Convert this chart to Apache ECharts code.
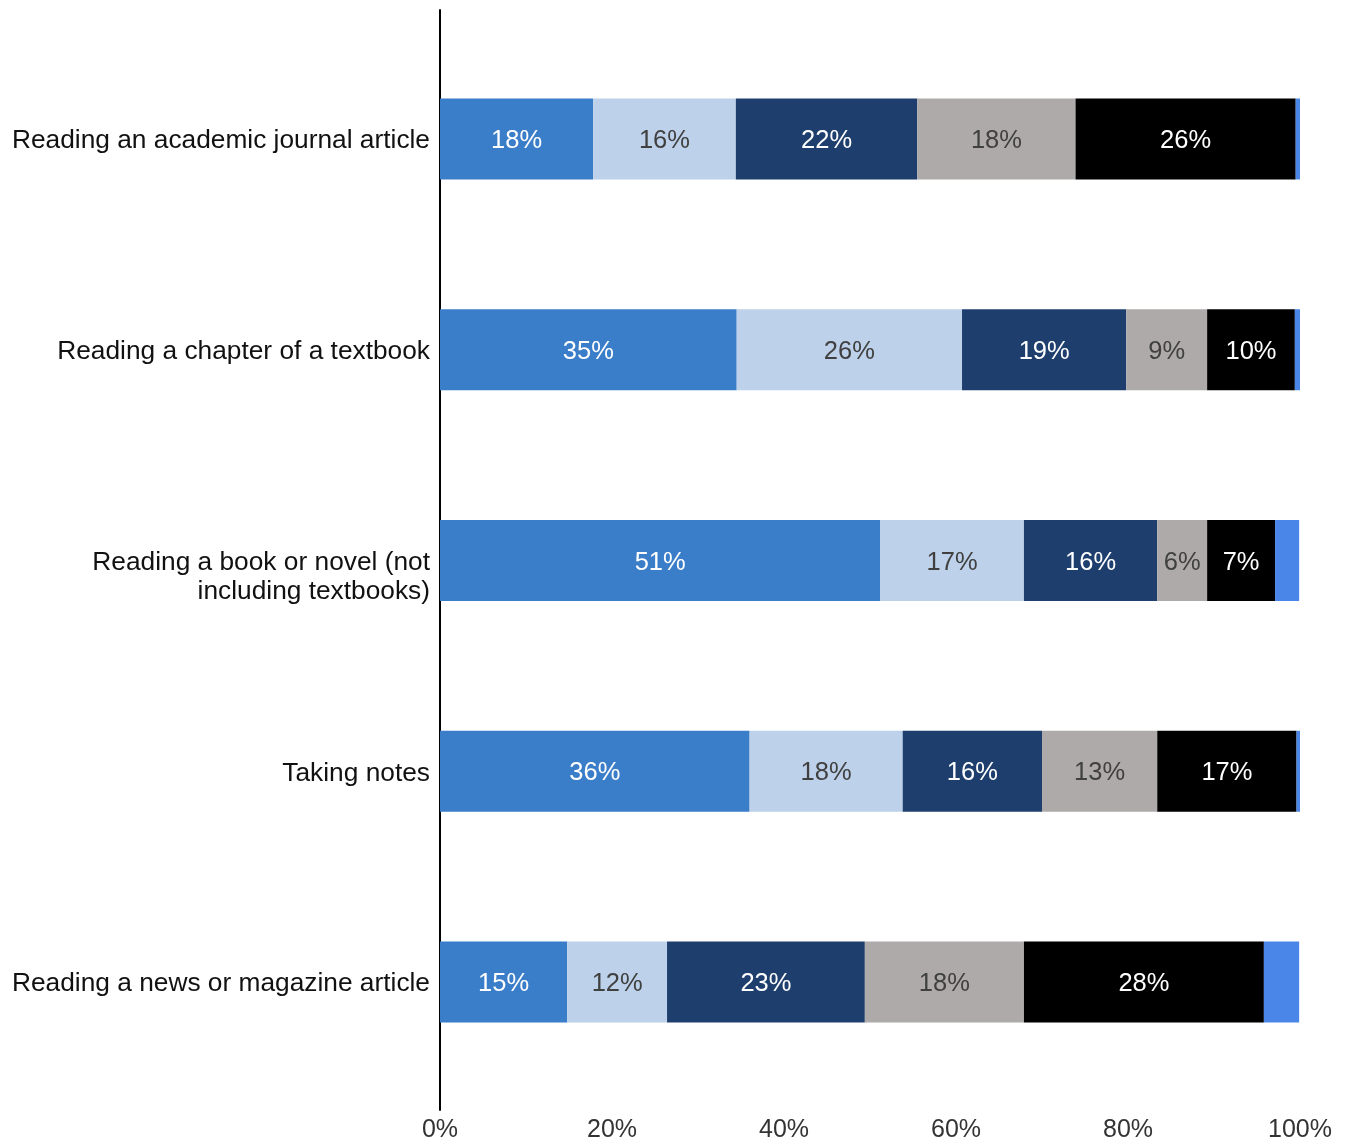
<!DOCTYPE html>
<html>
<head>
<meta charset="utf-8">
<script src="https://cdn.jsdelivr.net/npm/echarts@6/dist/echarts.min.js"></script>
<style>
html,body{margin:0;padding:0;background:#fff;}
#chart{width:1349px;height:1144px;}
</style>
</head>
<body>
<div id="chart"></div>
<script>
// Categories (top to bottom)
const categories = [
  "Reading an academic journal article",
  "Reading a chapter of a textbook",
  "Reading a book or novel (not\nincluding textbooks)",
  "Taking notes",
  "Reading a news or magazine article"
];
// Segment values (percent of bar length)
const seg1 = [17.8, 34.5, 51.2, 36.0, 14.8];
const seg2 = [16.6, 26.2, 16.7, 17.8, 11.6];
const seg3 = [21.1, 19.1, 15.5, 16.2, 23.0];
const seg4 = [18.4, 9.4, 5.8, 13.4, 18.5];
const seg5 = [25.6, 10.2, 7.9, 16.2, 27.9];
const seg6 = [0.7, 0.9, 2.8, 0.7, 4.1];
// Printed data labels
const lab1 = ["18%", "35%", "51%", "36%", "15%"];
const lab2 = ["16%", "26%", "17%", "18%", "12%"];
const lab3 = ["22%", "19%", "16%", "16%", "23%"];
const lab4 = ["18%", "9%", "6%", "13%", "18%"];
const lab5 = ["26%", "10%", "7%", "17%", "28%"];
// X tick values
const xTicks = [0, 20, 40, 60, 80, 100];

const FONT = "Liberation Sans, Arial, sans-serif";
const chart = echarts.init(document.getElementById('chart'), null, {renderer: 'canvas'});

function mk(name, data, color, labels, labelColor) {
  return {
    name: name,
    type: 'bar',
    stack: 'total',
    xAxisIndex: 0,
    yAxisIndex: 0,
    barWidth: 81,
    data: data,
    itemStyle: {color: color},
    label: labels ? {
      show: true,
      position: 'inside',
      color: labelColor,
      fontFamily: FONT,
      fontSize: 25.5,
      offset: [0, 2],
      formatter: p => labels[p.dataIndex]
    } : {show: false},
    emphasis: {disabled: true}
  };
}

chart.setOption({
  animation: false,
  backgroundColor: '#ffffff',
  grid: [
    {left: 440, right: 49, top: 33.6, bottom: 56.6},
    {left: 440, right: 49, top: 10, bottom: 34}
  ],
  xAxis: [
    {
      gridIndex: 0, type: 'value', min: xTicks[0], max: xTicks[xTicks.length - 1], interval: 20,
      axisLine: {show: false}, axisTick: {show: false}, splitLine: {show: false},
      axisLabel: {formatter: '{value}%', fontFamily: FONT, fontSize: 25, color: '#333333', margin: 30}
    },
    {
      gridIndex: 1, type: 'value', min: 0, max: 100, show: false
    }
  ],
  yAxis: [
    {
      gridIndex: 0, type: 'category', data: categories, inverse: true,
      axisLine: {show: false}, axisTick: {show: false},
      axisLabel: {
        fontFamily: FONT, fontSize: 26.3, color: '#111111', margin: 10, lineHeight: 29, align: 'right',
        formatter: v => {
          let lines = v.split('\n');
          if (lines.length > 1) lines = [' '].concat(lines);
          return lines.map(l => '{a|' + l + '}').join('\n');
        },
        rich: {a: {fontFamily: FONT, fontSize: 26.3, color: '#111111', lineHeight: 29, padding: [4, 0, 0, 0]}}
      }
    },
    {
      gridIndex: 1, type: 'value', min: 0, max: 1,
      axisLine: {show: true, lineStyle: {color: '#000000', width: 2}},
      axisTick: {show: false}, axisLabel: {show: false}, splitLine: {show: false}
    }
  ],
  series: [
    mk('s1', seg1, '#3a7dc8', lab1, '#ffffff'),
    mk('s2', seg2, '#bdd1ea', lab2, '#404040'),
    mk('s3', seg3, '#1e3f6e', lab3, '#ffffff'),
    mk('s4', seg4, '#aeaaaa', lab4, '#404040'),
    mk('s5', seg5, '#000000', lab5, '#ffffff'),
    mk('s6', seg6, '#4a86e8', null, null)
  ]
});
</script>
</body>
</html>
